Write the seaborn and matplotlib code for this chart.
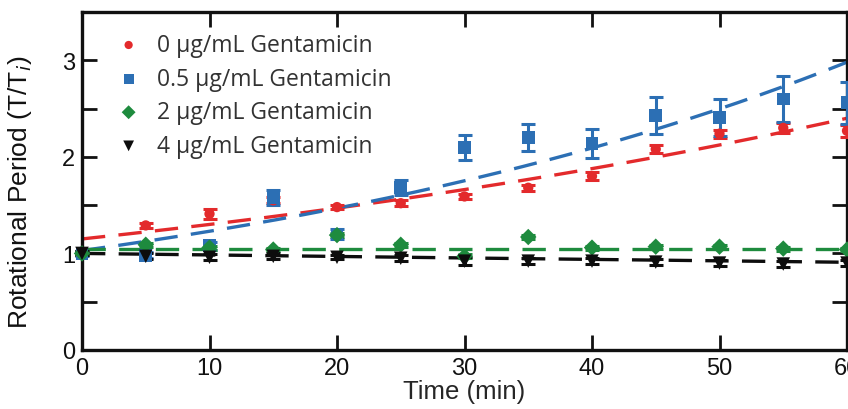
import numpy as np
import pandas as pd
import matplotlib
matplotlib.use("Agg")
import matplotlib.pyplot as plt
import seaborn as sns
from matplotlib.ticker import MultipleLocator

time = [0, 5, 10, 15, 20, 25, 30, 35, 40, 45, 50, 55, 60]
labels = ["0 μg/mL Gentamicin", "0.5 μg/mL Gentamicin",
          "2 μg/mL Gentamicin", "4 μg/mL Gentamicin"]
red_y = [1.00, 1.29, 1.41, 1.55, 1.48, 1.52, 1.59, 1.68, 1.80, 2.08, 2.24, 2.30, 2.27]
red_e = [0.02, 0.03, 0.05, 0.03, 0.02, 0.03, 0.03, 0.03, 0.04, 0.04, 0.04, 0.05, 0.06]
blue_y = [1.00, 0.98, 1.08, 1.58, 1.20, 1.68, 2.10, 2.20, 2.14, 2.43, 2.41, 2.60, 2.56]
blue_e = [0.03, 0.03, 0.04, 0.08, 0.05, 0.08, 0.13, 0.14, 0.15, 0.19, 0.19, 0.24, 0.22]
green_y = [1.00, 1.09, 1.06, 1.04, 1.19, 1.09, 0.97, 1.17, 1.06, 1.07, 1.07, 1.05, 1.04]
green_e = [0.02, 0.02, 0.02, 0.02, 0.02, 0.02, 0.02, 0.02, 0.02, 0.02, 0.02, 0.02, 0.02]
black_y = [1.00, 0.97, 0.96, 0.97, 0.96, 0.95, 0.92, 0.92, 0.92, 0.91, 0.90, 0.89, 0.90]
black_e = [0.02, 0.03, 0.03, 0.03, 0.02, 0.03, 0.04, 0.03, 0.03, 0.03, 0.03, 0.03, 0.03]
# exponential fit parameters: y = a * exp(k * t)
fit_a = [1.15, 1.03, 1.05, 1.00]
fit_k = [0.01226, 0.01771, 0.0, -0.0016]

colors = ["#e32a2c", "#2c6fb4", "#1e8b3e", "#0d0d0d"]
markers = ["o", "s", "D", "v"]
msizes = [55, 85, 70, 95]
leg_sizes = [35, 50, 50, 60]

ys = [red_y, blue_y, green_y, black_y]
es = [red_e, blue_e, green_e, black_e]

sns.set_style("ticks")
plt.rcParams["font.family"] = ["Liberation Sans", "DejaVu Sans"]

fig = plt.figure(figsize=(8.48, 4.10), dpi=100)
ax = fig.add_axes([82 / 848, 1 - 351 / 410, 765 / 848, 338 / 410])

rows = []
for lab, y in zip(labels, ys):
    for t, v in zip(time, y):
        rows.append({"Time": t, "Period": v, "Conc": lab})
df = pd.DataFrame(rows)

tgrid = np.linspace(0, 62, 200)
fit_rows = []
for lab, a, k in zip(labels, fit_a, fit_k):
    for t in tgrid:
        fit_rows.append({"Time": t, "Period": a * np.exp(k * t), "Conc": lab})
fit_df = pd.DataFrame(fit_rows)

for lab, c in zip(labels, colors):
    sub = fit_df[fit_df.Conc == lab]
    sns.lineplot(data=sub, x="Time", y="Period", color=c, lw=2.4, ax=ax,
                 legend=False, zorder=2)
for line in ax.lines:
    line.set_dashes([7, 4])

for lab, c, y, e in zip(labels, colors, ys, es):
    ax.errorbar(time, y, yerr=e, fmt="none", ecolor=c, elinewidth=2.2,
                capsize=4.7, capthick=2.2, zorder=3, clip_on=False)

for lab, c, m, s in zip(labels, colors, markers, msizes):
    sub = df[df.Conc == lab]
    sns.scatterplot(data=sub, x="Time", y="Period", color=c, marker=m, s=s,
                    edgecolor="none", ax=ax, label=lab, zorder=4, clip_on=False)

ax.set_xlim(0, 60)
ax.set_ylim(0, 3.5)
ax.xaxis.set_major_locator(MultipleLocator(10))
ax.yaxis.set_major_locator(MultipleLocator(1))
ax.yaxis.set_minor_locator(MultipleLocator(0.5))
ax.tick_params(axis="both", which="both", direction="in", top=True, right=True,
               width=2, color="#111111")
ax.tick_params(which="major", length=11)
ax.tick_params(which="minor", length=11)
ax.tick_params(axis="both", labelsize=17, pad=5, labelcolor="#111111")
for sp in ax.spines.values():
    sp.set_linewidth(2.4)
    sp.set_color("#111111")
    sp.set_visible(True)

for t in ax.get_xticklabels() + ax.get_yticklabels():
    t.set_fontfamily(["Liberation Sans Narrow", "Liberation Sans"])

ax.set_xlabel("Time (min)", fontsize=18.5, labelpad=0,
              fontfamily=["Liberation Sans Narrow", "Liberation Sans"])
ax.set_ylabel("Rotational Period (T/T$_i$)", fontsize=19, color="#111111")
ax.yaxis.set_label_coords(-0.063, 0.47)

leg = ax.legend(loc="upper left", frameon=False,
                handletextpad=0.45, labelspacing=0.42, handlelength=1.6,
                borderaxespad=0.0, bbox_to_anchor=(0.025, 0.965),
                prop={"family": ["Open Sans", "DejaVu Sans"], "size": 16.5})
for txt in leg.get_texts():
    txt.set_color("#333333")
for h, s in zip(leg.legend_handles, leg_sizes):
    h.set_sizes([s])

fig.savefig("out.png", dpi=100)
